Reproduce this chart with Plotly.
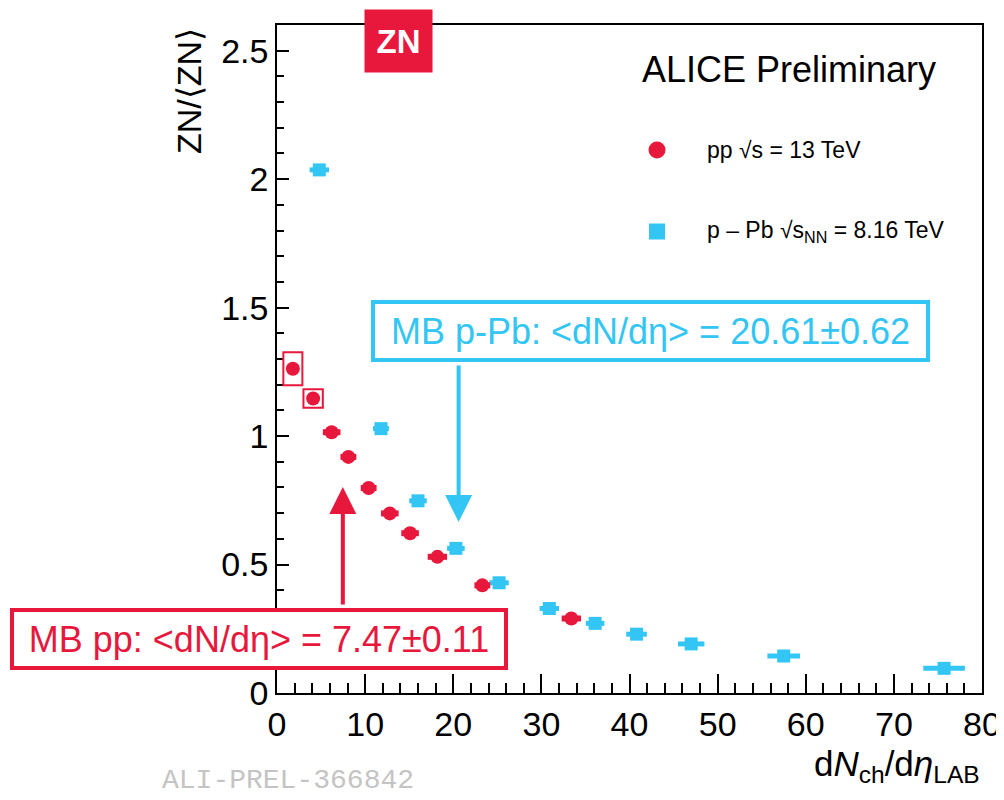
import plotly.graph_objects as go

# ---------------- data ----------------
pp_x = [1.8, 4.1, 6.2, 8.1, 10.4, 12.8, 15.1, 18.2, 23.3, 33.4]
pp_y = [1.262, 1.146, 1.015, 0.919, 0.798, 0.699, 0.622, 0.530, 0.419, 0.290]
pp_xerr = [0.6, 0.6, 1.0, 0.9, 0.9, 1.0, 1.0, 1.1, 0.9, 1.1]
# open systematic boxes drawn for the two lowest-multiplicity pp points
pp_sys_dx = [1.08, 1.10]
pp_sys_dy = [0.064, 0.036]

ppb_x = [4.8, 11.8, 16.0, 20.3, 25.2, 30.9, 36.1, 40.8, 47.0, 57.5, 75.7]
ppb_y = [2.036, 1.029, 0.748, 0.563, 0.429, 0.329, 0.271, 0.229, 0.191, 0.144, 0.096]
ppb_xerr = [1.1, 0.9, 1.0, 1.0, 1.1, 1.1, 1.05, 1.17, 1.5, 1.85, 2.36]

mb_pp = 7.47
mb_ppb = 20.61

x_ticks = [0, 10, 20, 30, 40, 50, 60, 70, 80]
y_ticks = [0, 0.5, 1, 1.5, 2, 2.5]

RED = "#e8173c"
CYAN = "#33c6f4"
FONT = "Liberation Sans, Arial, sans-serif"

fig = go.Figure()

fig.add_trace(go.Scatter(
    x=ppb_x, y=ppb_y, mode="markers", name="p – Pb √s<sub>NN</sub> = 8.16 TeV",
    marker=dict(symbol="square", size=13, color=CYAN, line=dict(width=0)),
    error_x=dict(type="data", array=ppb_xerr, color=CYAN, thickness=5, width=0),
    showlegend=False,
))
fig.add_trace(go.Scatter(
    x=pp_x, y=pp_y, mode="markers", name="pp √s = 13 TeV",
    marker=dict(symbol="circle", size=14, color=RED, line=dict(width=0)),
    error_x=dict(type="data", array=pp_xerr, color=RED, thickness=6, width=0),
    showlegend=False,
))

# systematic boxes
for xi, yi, dx, dy in zip(pp_x, pp_y, pp_sys_dx, pp_sys_dy):
    fig.add_shape(type="rect", xref="x", yref="y",
                  x0=xi - dx, x1=xi + dx, y0=yi - dy, y1=yi + dy,
                  line=dict(color=RED, width=2), fillcolor="rgba(0,0,0,0)")

# page body has an 8px margin: size the figure to the visible window
OFF = 8
W, H = 1004 - OFF, 800 - OFF
L, R, T, B = 277 - OFF, 22, 25 - OFF, 107
PW, PH = W - L - R, H - T - B


def px(xs):
    return (xs - OFF - L) / PW


def py(ys):
    return (H - B - (ys - OFF)) / PH


ann = []
# y-axis title
ann.append(dict(x=px(189), y=py(91), xref="paper", yref="paper", text="ZN/⟨ZN⟩",
                textangle=-90, showarrow=False, font=dict(size=34, color="black", family=FONT),
                xanchor="center", yanchor="middle"))
# x-axis title
ann.append(dict(x=1.0, y=py(766), xref="paper", yref="paper",
                text="d<i>N</i><sub>ch</sub>/d<i>η</i><sub>LAB</sub>",
                showarrow=False, font=dict(size=35, color="black", family=FONT),
                xanchor="right", yanchor="middle"))
# ALICE Preliminary
ann.append(dict(x=px(788.5), y=py(70), xref="paper", yref="paper", text="ALICE Preliminary",
                showarrow=False, font=dict(size=36, color="black", family=FONT),
                xanchor="center", yanchor="middle"))
# ZN box
ann.append(dict(x=px(398.5), y=py(41), xref="paper", yref="paper", text="<b>ZN</b>",
                showarrow=False, font=dict(size=33, color="white", family=FONT),
                bgcolor=RED, width=67, height=62, borderpad=0,
                xanchor="center", yanchor="middle"))
# legend texts
ann.append(dict(x=px(705), y=py(150), xref="paper", yref="paper", text="pp √s = 13 TeV",
                showarrow=False, font=dict(size=23, color="black", family=FONT),
                xanchor="left", yanchor="middle"))
ann.append(dict(x=px(705), y=py(231), xref="paper", yref="paper",
                text="p – Pb √s<sub>NN</sub> = 8.16 TeV",
                showarrow=False, font=dict(size=23, color="black", family=FONT),
                xanchor="left", yanchor="middle"))
# MB boxes
ann.append(dict(x=px(650.5), y=py(331), xref="paper", yref="paper",
                text="MB p-Pb: &lt;dN/dη&gt; = 20.61±0.62",
                showarrow=False, font=dict(size=36, color=CYAN, family=FONT),
                bgcolor="white", bordercolor=CYAN, borderwidth=4, borderpad=0,
                width=551, height=54, xanchor="center", yanchor="middle"))
ann.append(dict(x=px(259), y=py(639), xref="paper", yref="paper",
                text="MB pp: &lt;dN/dη&gt; = 7.47±0.11",
                showarrow=False, font=dict(size=36, color=RED, family=FONT),
                bgcolor="white", bordercolor=RED, borderwidth=4, borderpad=0,
                width=490, height=54, xanchor="center", yanchor="middle"))
# arrows
sy = 2.6 / PH
ann.append(dict(x=mb_ppb, y=(693 - 522) * sy, xref="x", yref="y",
                ax=mb_ppb, ay=(693 - 364) * sy, axref="x", ayref="y",
                text="", showarrow=True, arrowhead=2, arrowwidth=4, arrowsize=1.35,
                arrowcolor=CYAN, standoff=0, startstandoff=0))
ann.append(dict(x=mb_pp, y=(693 - 487) * sy, xref="x", yref="y",
                ax=mb_pp, ay=(693 - 606) * sy, axref="x", ayref="y",
                text="", showarrow=True, arrowhead=2, arrowwidth=4, arrowsize=1.35,
                arrowcolor=RED, standoff=0, startstandoff=0))
# preliminary ID
ann.append(dict(x=px(160), y=py(798), xref="paper", yref="paper", text="ALI-PREL-366842",
                showarrow=False, font=dict(size=28, color="#c4c4c4", family="Liberation Mono, Courier New, monospace"),
                xanchor="left", yanchor="bottom"))

# legend symbols
fig.add_shape(type="circle", xref="paper", yref="paper", xsizemode="pixel", ysizemode="pixel",
              xanchor=px(657), yanchor=py(150), x0=-8.5, x1=8.5, y0=-8.5, y1=8.5,
              fillcolor=RED, line=dict(width=0))
fig.add_shape(type="rect", xref="paper", yref="paper", xsizemode="pixel", ysizemode="pixel",
              xanchor=px(657), yanchor=py(231.5), x0=-8, x1=8, y0=-8, y1=8,
              fillcolor=CYAN, line=dict(width=0))

axis_common = dict(showgrid=False, zeroline=False, showline=True, linecolor="black",
                   linewidth=1.5, mirror=True, ticks="inside", tickcolor="black",
                   tickwidth=1.5, automargin=False,
                   tickfont=dict(size=34, color="black", family=FONT))

fig.update_xaxes(range=[0, 80], tickvals=x_ticks, ticklen=19,
                 minor=dict(dtick=2, ticks="inside", ticklen=10, tickcolor="black", tickwidth=1.5),
                 **axis_common)
fig.update_yaxes(range=[0, 2.6], tickvals=y_ticks, ticklen=12,
                 minor=dict(dtick=0.1, ticks="inside", ticklen=7, tickcolor="black", tickwidth=1.5),
                 **axis_common)

fig.update_layout(
    width=W, height=H,
    margin=dict(l=L, r=R, t=T, b=B, pad=0, autoexpand=False),
    paper_bgcolor="white", plot_bgcolor="white",
    annotations=ann,
    showlegend=False,
    font=dict(family=FONT),
)

fig.write_html("out.html")
